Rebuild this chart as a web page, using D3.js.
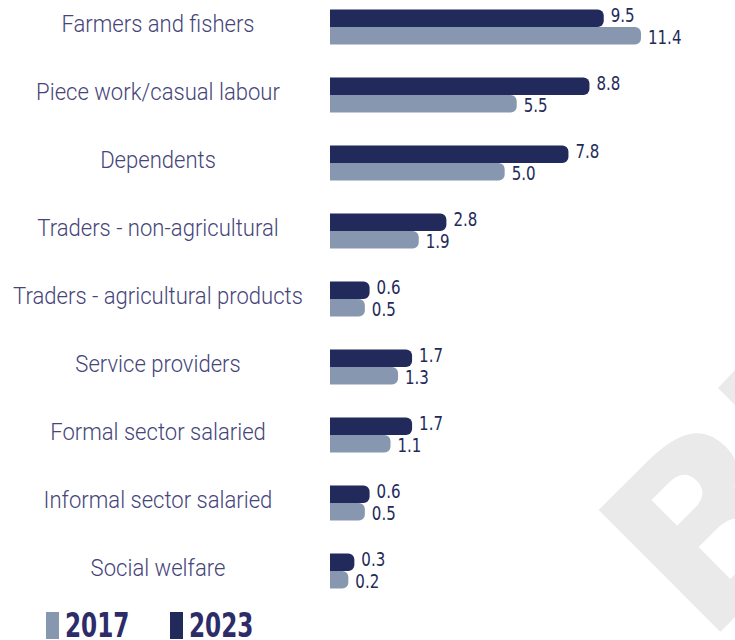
<!DOCTYPE html>
<html>

<head>
    <title>Income sources</title>
    <script src="https://cdn.jsdelivr.net/npm/d3@7"></script>
    <style>
        body { margin: 0; background: #fff; }
    </style>
</head>

<body>
    <svg width="735" height="640" id="mainsvg"></svg>
    <script>
        const categories = ['Farmers and fishers', 'Piece work/casual labour', 'Dependents',
            'Traders - non-agricultural', 'Traders - agricultural products', 'Service providers',
            'Formal sector salaried', 'Informal sector salaried', 'Social welfare'];
        const years = ['2023', '2017'];
        const values2023 = [9.5, 8.8, 7.8, 2.8, 0.6, 1.7, 1.7, 0.6, 0.3];
        const values2017 = [11.4, 5.5, 5.0, 1.9, 0.5, 1.3, 1.1, 0.5, 0.2];
        const legendYears = ['2017', '2023'];

        const svg = d3.select('#mainsvg');
        const width = +svg.attr('width');
        const height = +svg.attr('height');

        const color = d3.scaleOrdinal().domain(years).range(['#212a5b', '#8797b0']);
        const font = 'Roboto, "DejaVu Sans Condensed", sans-serif';
        const numFont = '"DejaVu Sans Condensed", sans-serif';

        // watermark, mostly off the bottom-right corner
        const fs = 236;
        svg.append('text')
            .attr('transform', 'translate(720,632) rotate(-45)')
            .attr('x', -0.09 * fs)
            .attr('font-family', '"DejaVu Sans", sans-serif')
            .attr('font-weight', 'bold')
            .attr('font-size', fs)
            .attr('fill', '#eaeaea')
            .text('B');
        // corner of the next watermark glyph peeking in at the edge
        svg.append('path')
            .attr('d', 'M718,388 L735,370 L735,405 Z')
            .attr('fill', '#eaeaea');

        const x0 = 330;
        // the original bars are not drawn to a linear scale
        const x = d3.scalePow().exponent(0.7)
            .domain([0, d3.max(values2017.concat(values2023))])
            .range([0, 311]);

        const y = d3.scaleBand()
            .domain(categories)
            .range([9.5, 588.5])
            .paddingInner(0.4853)
            .paddingOuter(0);

        const ySub = d3.scaleBand()
            .domain(years)
            .range([0, y.bandwidth()]);

        const rows = categories.map((c, i) => ({
            name: c,
            bars: [
                { year: '2023', value: values2023[i] },
                { year: '2017', value: values2017[i] }
            ]
        }));

        // rounded on the right end only
        const barPath = (w, h, r) => {
            r = Math.min(r, w, h / 2);
            return `M0,0 H${w - r} A${r},${r} 0 0 1 ${w},${r} V${h - r} A${r},${r} 0 0 1 ${w - r},${h} H0 Z`;
        };

        const g = svg.append('g');

        const row = g.selectAll('.row')
            .data(rows)
            .join('g')
            .attr('class', 'row')
            .attr('transform', d => `translate(0, ${y(d.name)})`);

        row.append('text')
            .attr('transform', `translate(158, ${y.bandwidth() / 2 - 1}) scale(0.92, 1)`)
            .attr('text-anchor', 'middle')
            .attr('dominant-baseline', 'middle')
            .attr('font-family', font)
            .attr('font-weight', 300)
            .attr('font-size', 24)
            .attr('fill', '#45457a')
            .text(d => d.name);

        const bar = row.selectAll('.bar')
            .data(d => d.bars)
            .join('g')
            .attr('class', 'bar')
            .attr('transform', d => `translate(${x0}, ${ySub(d.year)})`);

        bar.append('path')
            .attr('d', d => barPath(x(d.value), ySub.bandwidth(), 6))
            .attr('fill', d => color(d.year));

        bar.append('text')
            .attr('transform', d => `translate(${x(d.value) + 7}, ${ySub.bandwidth() / 2 + (d.year === '2023' ? -2 : 3)}) scale(0.88, 1)`)
            .attr('dominant-baseline', 'middle')
            .attr('font-family', numFont)
            .attr('font-size', 19)
            .attr('fill', '#232a5a')
            .text(d => d.value.toFixed(1));

        // legend
        const legend = svg.append('g')
            .selectAll('g')
            .data(legendYears)
            .join('g')
            .attr('transform', (d, i) => `translate(${46 + i * 124}, 612)`);

        legend.append('rect')
            .attr('width', 13)
            .attr('height', 27)
            .attr('fill', d => color(d));

        legend.append('text')
            .attr('transform', 'translate(19, 25) scale(0.78, 1)')
            .attr('font-family', numFont)
            .attr('font-weight', 'bold')
            .attr('font-size', 33)
            .attr('fill', '#2d2b68')
            .text(d => d);
    </script>
</body>

</html>
